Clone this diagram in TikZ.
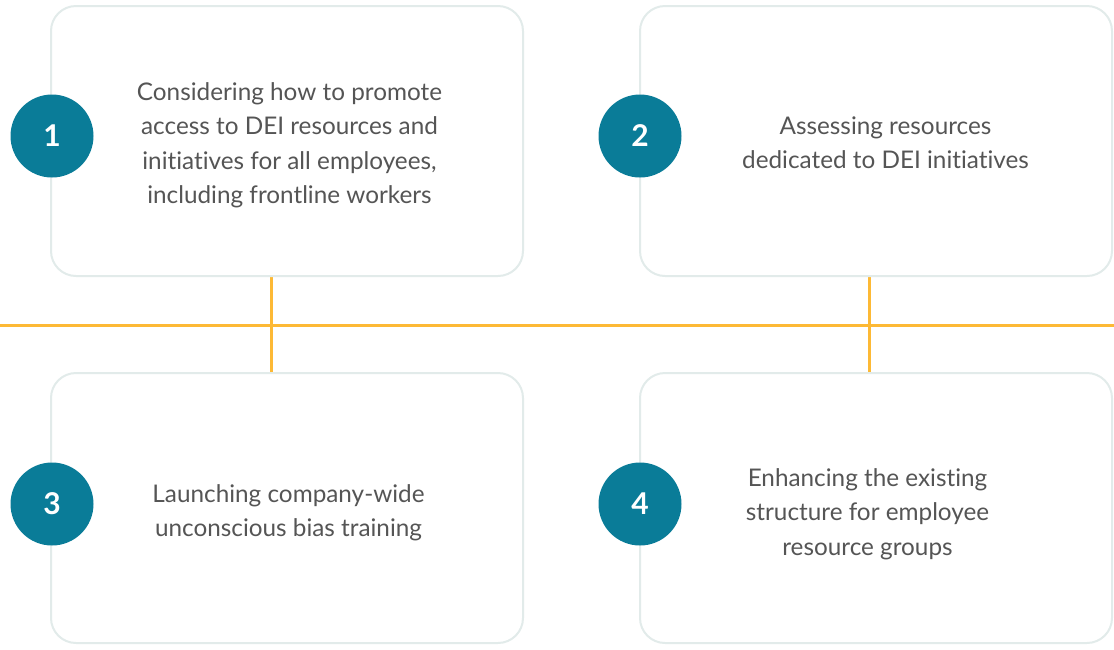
\documentclass[tikz,border=0pt]{standalone}
\usepackage{fontspec}
\setmainfont{Lato}[Ligatures=NoCommon]
\definecolor{teal}{HTML}{0A7C98}
\definecolor{boxline}{HTML}{E2EBEA}
\definecolor{orangeline}{HTML}{FDB935}
\definecolor{txt}{HTML}{555555}
\begin{document}
\begin{tikzpicture}[x=1pt,y=-1pt,
  card/.style={draw=boxline,line width=2pt,rounded corners=25pt,fill=white},
  num/.style={circle,fill=teal,minimum size=83pt,inner sep=0pt,text=white,font=\fontsize{30}{34}\selectfont\bfseries},
  desc/.style={align=center,text=txt,font=\fontsize{24.3}{34.5}\selectfont},
  link/.style={draw=orangeline,line width=3pt}]
\useasboundingbox (0,0) rectangle (1114,649);
\coordinate (hl) at (0,325);
\coordinate (hr) at (1114,325);
\draw[link] (hl) -- (hr);
\draw[link] (271,277) coordinate (v1t) -- (271,372) coordinate (v1b);
\draw[link] (869,277) coordinate (v2t) -- (869,372) coordinate (v2b);
\draw[card] (51,6) rectangle (523,276);
\draw[card] (640,6) rectangle (1112,276);
\draw[card] (51,373) rectangle (523,643);
\draw[card] (640,373) rectangle (1112,643);
\node[num] (n1) at (52,136) {1};
\node[num] (n2) at (640,136) {2};
\node[num] (n3) at (52,504) {3};
\node[num] (n4) at (640,504) {4};
\node[desc] (t1) at (289.5,145.5) {Considering how to promote\\access to DEI resources and\\initiatives for all employees,\\including frontline workers};
\node[desc] (t2) at (885.5,142.5) {Assessing resources\\dedicated to DEI initiatives};
\node[desc] (t3) at (288.5,513) {Launching company-wide\\unconscious bias training};
\node[desc] (t4) at (867.5,514) {Enhancing the existing\\structure for employee\\resource groups};
\end{tikzpicture}
\end{document}
